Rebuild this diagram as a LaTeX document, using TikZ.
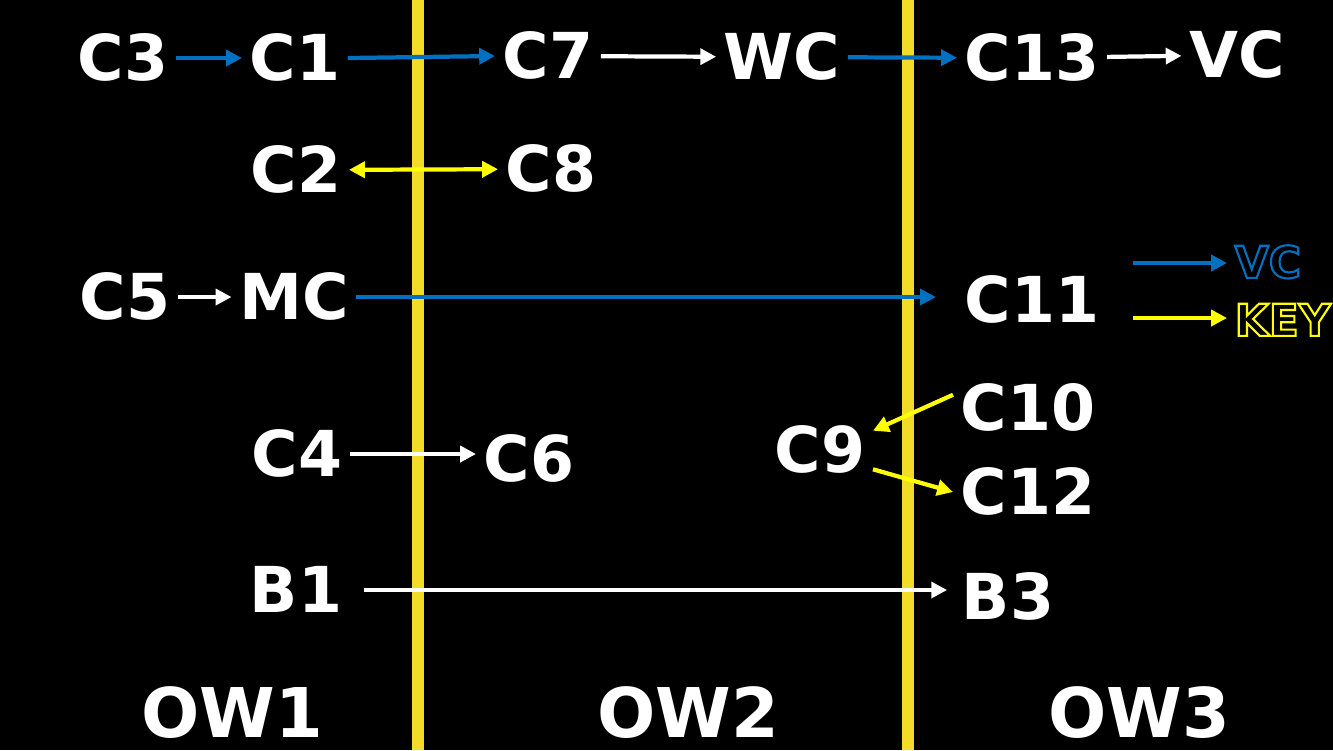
\documentclass[tikz,border=0pt]{standalone}
\usepackage{fontspec}
\setmainfont{DejaVu Sans}
\usetikzlibrary{arrows.meta, positioning}
\definecolor{linkblue}{HTML}{0070C0}
\definecolor{keyyellow}{HTML}{FFFF00}
\definecolor{wallyellow}{HTML}{F2DC28}
\newcommand{\outlined}[1]{\special{pdf:literal direct 1 Tr 0.6 w}#1\special{pdf:literal direct 0 Tr}}

\begin{document}
\begin{tikzpicture}[x=0.01cm, y=-0.01cm,
  room/.style={text=white, font=\fontsize{18}{18}\selectfont\bfseries, inner sep=2pt, text height=13pt, text depth=0pt},
  world/.style={text=white, font=\fontsize{19.5}{19.5}\selectfont\bfseries, inner sep=1pt, text height=14pt, text depth=0pt},
  legend/.style={anchor=west, font=\fontsize{12.5}{12.5}\selectfont\bfseries, inner sep=2pt, text height=9pt, text depth=0pt},
  conn/.style={line width=1.2pt, -{Triangle[length=4.5pt, width=4.5pt]}},
  bluelink/.style={conn, linkblue}, whitelink/.style={conn, white}, yellowlink/.style={conn, keyyellow}]
  \fill [black] (0,0) rectangle (1333,750);
  \useasboundingbox (0,0) rectangle (1333,750);
  \draw [wallyellow, line width=3.4pt] (418,0) -- (418,750);
  \draw [wallyellow, line width=3.4pt] (908,0) -- (908,750);
  \node [room] (c3) at (123,58) {C3};
  \node [room] (c1) at (295,58) {C1};
  \node [room] (c7) at (548,56) {C7};
  \node [room] (wc) at (782,57) {WC};
  \node [room] (c13) at (1032,58) {C13};
  \node [room] (vc) at (1237,55) {VC};
  \node [room] (c2) at (296,170) {C2};
  \node [room] (c8) at (551,169) {C8};
  \node [room] (c5) at (125,297) {C5};
  \node [room] (mc) at (294,297) {MC};
  \node [room] (c11) at (1032,300) {C11};
  \node [room] (c4) at (297,454) {C4};
  \node [room] (c6) at (529,459) {C6};
  \node [room] (c9) at (820,450) {C9};
  \node [room] (c10) at (1028,408) {C10};
  \node [room] (c12) at (1028,492) {C12};
  \node [room] (b1) at (296,590) {B1};
  \node [room] (b3) at (1008,597) {B3};
  \node [world] (ow1) at (232,713) {OW1};
  \node [world] (ow2) at (688,713) {OW2};
  \node [world] (ow3) at (1139,713) {OW3};
  \node [legend, text=linkblue] (keyvc) at (1227,262) {\outlined{VC}};
  \node [legend, text=keyyellow] (keykey) at (1227,320) {\outlined{KEY}};
  \coordinate (bluefrom) at (1133,263);
  \coordinate (yellowfrom) at (1133,318);
  \draw [bluelink] (c3) -- (c1);
  \draw [bluelink] (c1.east) -- (c7.west);
  \draw [whitelink] (c7) -- (wc);
  \draw [bluelink] (wc) -- (c13);
  \draw [whitelink] (c13) -- (vc);
  \draw [yellowlink, {Triangle[length=4.5pt, width=4.5pt]}-{Triangle[length=4.5pt, width=4.5pt]}] (c2) -- (c8);
  \draw [whitelink] (c5) -- (mc);
  \draw [bluelink] (mc.east) -- ([xshift=-6pt]c11.west |- mc.east);
  \draw [whitelink] (c4.east) -- (c4.east -| c6.west);
  \draw [yellowlink] (c10.170) -- (c9.20);
  \draw [yellowlink] (c9.-20) -- (c12.west);
  \draw [whitelink] ([xshift=4pt]b1.east) -- ([xshift=-2pt]b3.west |- b1.east);
  \draw [bluelink] (bluefrom) -- (bluefrom -| keyvc.west);
  \draw [yellowlink] (yellowfrom) -- (yellowfrom -| keykey.west);
\end{tikzpicture}
\end{document}
